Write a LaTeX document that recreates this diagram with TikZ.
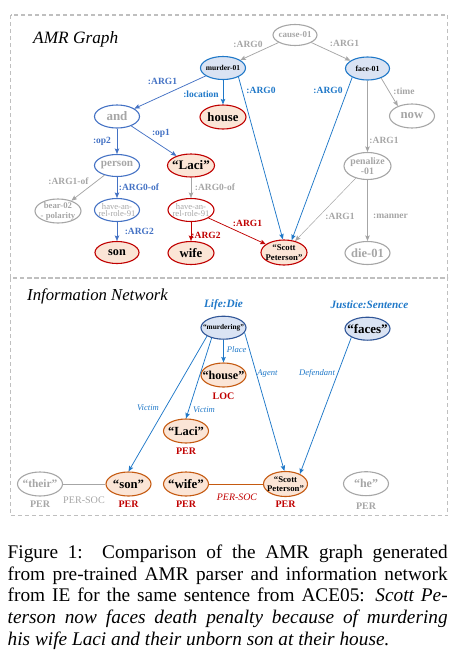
\documentclass[tikz,border=0pt]{standalone}
\usepackage{fontspec}
\setmainfont{Liberation Serif}
\usetikzlibrary{shapes.geometric,arrows.meta}
\definecolor{gr}{HTML}{A6A6A6}
\definecolor{boxgr}{HTML}{BFBFBF}
\definecolor{blueA}{HTML}{1F78C8}
\definecolor{blueB}{HTML}{4472C4}
\definecolor{blueD}{HTML}{2F5597}
\definecolor{fillB}{HTML}{DAE3F3}
\definecolor{redA}{HTML}{C00000}
\definecolor{fillR}{HTML}{FBE5D6}
\definecolor{orA}{HTML}{C55A11}
\newcommand\fsz[2]{\fontsize{#1}{#2}\selectfont}
\newcommand\nd[6][]{\node[#2,#1] (#3) at (#4) {}; \node[tx,#5] at (#3.center) {#6};}
\tikzset{
  en/.style={ellipse, inner sep=0pt, minimum width=45pt, minimum height=23pt, line width=1.1pt},
  amrB/.style={en, draw=blueA, fill=fillB},
  amrL/.style={en, draw=blueB},
  amrG/.style={en, draw=gr},
  amrR/.style={en, draw=redA, fill=fillR},
  amrRo/.style={en, draw=redA},
  ieB/.style={en, draw=blueD, fill=fillB},
  ieO/.style={en, draw=orA, fill=fillR},
  ieG/.style={en, draw=gr},
  tx/.style={inner sep=0pt, align=center},
  ed/.style={line width=0.75pt, -{Stealth[length=5.5pt,width=4.5pt,inset=1pt]}},
  eg/.style={ed, draw=gr},
  eA/.style={ed, draw=blueA},
  eB/.style={ed, draw=blueB},
  eR/.style={ed, draw=redA},
  eI/.style={ed, draw=blueA},
  lab/.style={inner sep=0pt, font=\bfseries\fsz{9.5}{10}},
  ilab/.style={inner sep=0pt, font=\itshape\fsz{8.6}{9}, text=blueA},
  ent/.style={inner sep=0pt, font=\bfseries\fsz{10}{10}},
  dbox/.style={draw=boxgr, line width=1.1pt, dash pattern=on 4pt off 3pt},
}
\begin{document}
\begin{tikzpicture}[x=1pt,y=-1pt]
\useasboundingbox (0,0) rectangle (455,664);
\draw[dbox] (10.5,15) rectangle (447.8,278);
\draw[dbox] (10.5,278) rectangle (447.8,515.7);
\node[anchor=base west, inner sep=0pt, font=\itshape\fsz{17.3}{18}] (t1) at (33,43.5) {AMR Graph};
\node[anchor=base west, inner sep=0pt, font=\itshape\fsz{16.7}{18}] (t2) at (27,300.5) {Information Network};

% ---------- AMR graph ----------
\nd[minimum width=44pt,minimum height=21pt]{amrG}{cause}{295,35}{font=\bfseries\fsz{9}{9}, text=gr}{cause-01}
\nd{amrB}{murder}{223,68}{font=\bfseries\fsz{7.5}{8}}{murder-01}
\nd[minimum width=44pt]{amrB}{face}{367.5,68.5}{font=\bfseries\fsz{7.8}{8}}{face-01}
\nd{amrL}{and}{117,116.5}{font=\bfseries\fsz{13}{13}, text=gr}{and}
\nd[minimum width=46pt,minimum height=24pt]{amrR}{house}{223,117}{font=\bfseries\fsz{12.7}{13}}{house}
\nd[minimum height=24pt]{amrG}{now}{412,116}{font=\bfseries\fsz{12.8}{13}, text=gr}{now}
\nd[minimum height=22pt]{amrL}{person}{117,165.5}{font=\bfseries\fsz{11.2}{12}, text=gr}{person}
\nd[minimum width=47pt]{amrR}{laci}{191,165.5}{font=\bfseries\fsz{13}{13}}{“Laci”}
\nd[minimum width=47pt,minimum height=27pt]{amrG}{pen}{367.5,166}{font=\bfseries\fsz{9.8}{10}, text=gr}{penalize\\-01}
\nd[minimum width=46pt,minimum height=24pt]{amrG}{bear}{58,211}{font=\bfseries\fsz{8.7}{10}, text=gr}{bear-02\\- polarity}
\nd{amrL}{haveB}{117,210}{font=\fsz{8.6}{7.8}, text=gr}{have-an-\\rel-role-91}
\nd[minimum width=46pt]{amrRo}{haveR}{191,210}{font=\fsz{8.6}{7.8}, text=gr}{have-an-\\rel-role-91}
\nd[minimum width=44pt,minimum height=22pt]{amrR}{son}{117,252.5}{font=\bfseries\fsz{12.2}{13}}{son}
\nd[minimum width=46pt]{amrR}{wife}{191,253}{font=\bfseries\fsz{12.8}{13}}{wife}
\nd[minimum width=46pt,minimum height=25pt]{amrR}{sp}{284,252.5}{font=\bfseries\fsz{8.7}{9.5}}{“Scott\\Peterson”}
\nd{amrG}{die}{367.5,253}{font=\bfseries\fsz{12.5}{13}, text=gr}{die-01}

\draw[eg] (cause) -- (murder);
\draw[eg] (cause) -- (face);
\draw[eB] (murder) -- (and);
\draw[eA] (murder) -- (house);
\draw[eA] (murder.-30) -- (sp.95);
\draw[eA] (face.-150) -- (sp.58);
\draw[eg] (face.-35) -- (now.145);
\draw[eg] (face) -- (pen);
\draw[eB] (and) -- (person);
\draw[eB] (and) -- (laci);
\draw[eg] (person) -- (bear);
\draw[eB] (person) -- (haveB);
\draw[eg] (laci) -- (haveR);
\draw[eB] (haveB) -- (son);
\draw[eR] (haveR) -- (wife);
\draw[eR] (haveR) -- (sp);
\draw[eg, line width=0.5pt] (pen) -- (sp);
\draw[eg] (pen) -- (die);

\node[lab, text=gr] (l1) at (248,44) {:ARG0};
\node[lab, text=gr] (l2) at (344.5,43) {:ARG1};
\node[lab, text=blueB] (l3) at (162.5,81) {:ARG1};
\node[lab, text=blueA] (l4) at (201,94) {:location};
\node[lab, text=blueA] (l5) at (261,90) {:ARG0};
\node[lab, text=blueA] (l6) at (328,90) {:ARG0};
\node[lab, text=gr] (l7) at (404,91.5) {:time};
\node[lab, text=gr] (l8) at (384,140) {:ARG1};
\node[lab, text=blueB] (l9) at (161,133) {:op1};
\node[lab, text=blueB] (l10) at (102,141.7) {:op2};
\node[lab, text=gr] (l11) at (68.5,181.7) {:ARG1-of};
\node[lab, text=blueB] (l12) at (139,187.3) {:ARG0-of};
\node[lab, text=gr] (l13) at (215,187.3) {:ARG0-of};
\node[lab, text=blueB] (l14) at (139.3,231) {:ARG2};
\node[lab, text=redA] (l15) at (206,235.3) {:ARG2};
\node[lab, text=redA] (l16) at (247.5,223.3) {:ARG1};
\node[lab, text=gr] (l17) at (340,216) {:ARG1};
\node[lab, text=gr] (l18) at (390.5,216) {:manner};

% ---------- Information network ----------
\node[inner sep=0pt, font=\bfseries\itshape\fsz{11.3}{12}, text=blueA] (ld) at (223.5,305) {Life:Die};
\node[inner sep=0pt, font=\bfseries\itshape\fsz{11.2}{12}, text=blueA] (js) at (369.5,305) {Justice:Sentence};
\nd{ieB}{murd}{223.5,327.7}{font=\bfseries\fsz{7.3}{8}}{“murdering”}
\nd{ieB}{faces}{367.5,328.7}{font=\bfseries\fsz{13}{13}}{“faces”}
\nd[minimum height=24pt]{ieO}{houseB}{223.5,375}{font=\bfseries\fsz{12.1}{13}}{“house”}
\nd[minimum height=24pt]{ieO}{laciB}{186,431}{font=\bfseries\fsz{12.4}{13}}{“Laci”}
\nd[minimum height=24pt]{ieG}{their}{40,484}{font=\bfseries\fsz{11.4}{12}, text=gr}{“their”}
\nd[minimum height=24pt]{ieO}{sonB}{128.5,484}{font=\bfseries\fsz{12.7}{13}}{“son”}
\nd[minimum height=24pt]{ieO}{wifeB}{186,484}{font=\bfseries\fsz{12.9}{13}}{“wife”}
\nd[minimum width=44pt,minimum height=25pt]{ieO}{spB}{285.5,484}{font=\bfseries\fsz{8.7}{9.5}}{“Scott\\Peterson”}
\nd[minimum height=24pt]{ieG}{he}{366,483.7}{font=\bfseries\fsz{12}{13}, text=gr}{“he”}

\node[ent, text=redA] (e1) at (223.5,396.7) {LOC};
\node[ent, text=redA] (e2) at (186,451.7) {PER};
\node[ent, text=gr] (e3) at (40,504.3) {PER};
\node[ent, text=redA] (e4) at (128.5,504.3) {PER};
\node[ent, text=redA] (e5) at (186,504.3) {PER};
\node[ent, text=redA] (e6) at (285.5,504.3) {PER};
\node[ent, text=gr] (e7) at (366,506.7) {PER};

\draw[eI] (murd) -- (houseB);
\draw[eI] (murd.-153) -- (sonB.north);
\draw[eI] (murd.-139) -- (laciB.north);
\draw[eI] (murd.-13) -- (spB.95);
\draw[eI] (faces.-152) -- (spB.35);
\draw[draw=gr, line width=1pt] (their) -- (sonB);
\draw[draw=orA, line width=1pt] (wifeB) -- (spB);

\node[ilab] (p1) at (236.7,350) {Place};
\node[ilab] (p2) at (148,407.3) {Victim};
\node[ilab] (p3) at (204,410) {Victim};
\node[ilab] (p4) at (267.5,373.3) {Agent};
\node[ilab] (p5) at (317,373.3) {Defendant};
\node[inner sep=0pt, font=\fsz{10.1}{11}, text=gr] (s1) at (84,500) {PER-SOC};
\node[inner sep=0pt, font=\itshape\fsz{9.9}{11}, text=redA] (s2) at (237,497.7) {PER-SOC};

% ---------- caption ----------
\node[anchor=base west, inner sep=0pt] (cap) at (7.5,558.3) {\begin{minipage}[t]{440pt}\fsz{19.3}{21.7}\selectfont
Figure 1:\ \ Comparison of the AMR graph generated\linebreak
from pre-trained AMR parser and information network\linebreak
from IE for the same sentence from ACE05: \textit{Scott Pe-}\linebreak
\textit{terson now faces death penalty because of murdering}\linebreak
\textit{his wife Laci and their unborn son at their house.}\end{minipage}};
\end{tikzpicture}
\end{document}
